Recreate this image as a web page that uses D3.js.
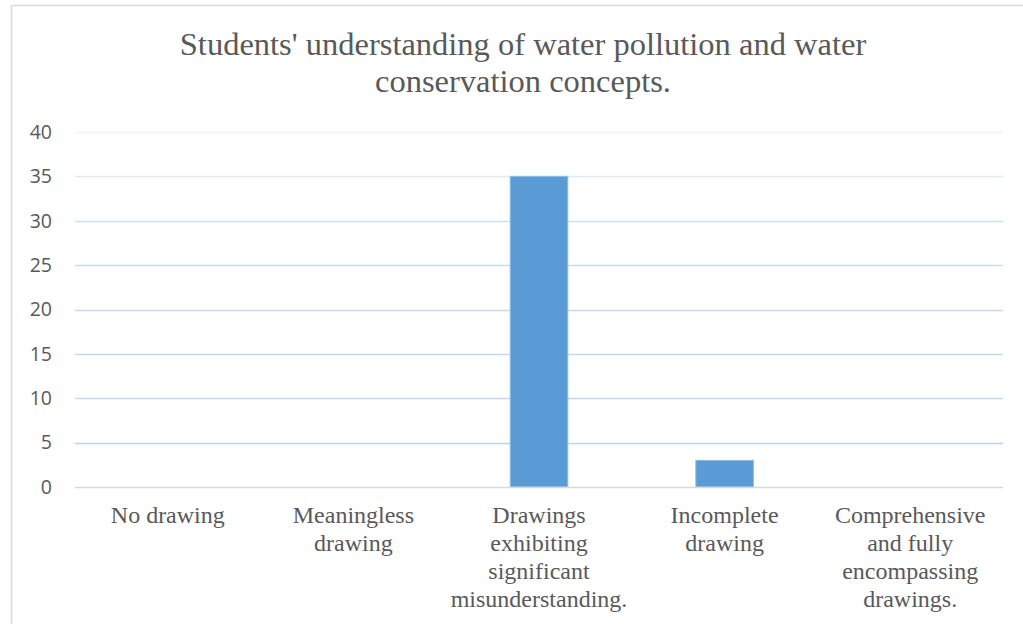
<!DOCTYPE html>
<html>
<head>
<meta charset="utf-8">
<script src="https://cdn.jsdelivr.net/npm/d3@7"></script>
<style>
  html, body { margin: 0; padding: 0; background: #fff; }
  svg { display: block; }
  .serif { font-family: "Liberation Serif", "Tinos", "Times New Roman", "Nimbus Roman", "DejaVu Serif", serif; }
  .sans { font-family: "Open Sans", "Liberation Sans", sans-serif; }
</style>
</head>
<body>
<svg id="chart" width="1023" height="624"></svg>
<script>
// Drawing categories (each label split into its wrapped lines)
const categories = [
  ["No drawing"],
  ["Meaningless", "drawing"],
  ["Drawings", "exhibiting", "significant", "misunderstanding."],
  ["Incomplete", "drawing"],
  ["Comprehensive", "and fully", "encompassing", "drawings."]
];
const counts = [0, 0, 35, 3, 0];
const yTicks = [0, 5, 10, 15, 20, 25, 30, 35, 40];
const titleLines = [
  "Students' understanding of water pollution and water",
  "conservation concepts."
];

const W = 1023, H = 624;
const margin = { left: 75, right: 20, top: 132, bottom: 137 };
const svg = d3.select("#chart");

// chart frame (open on the right and bottom)
svg.append("path")
  .attr("d", `M11.5,${H} V5.5 H${W}`)
  .attr("fill", "none")
  .attr("stroke", "#d9d9d9")
  .attr("stroke-width", 1.5);

const x = d3.scaleBand()
  .domain(d3.range(categories.length))
  .range([margin.left, W - margin.right])
  .paddingInner(0.69)
  .paddingOuter(0.345);

const xBand = d3.scaleBand()
  .domain(d3.range(categories.length))
  .range([margin.left, W - margin.right]);

const y = d3.scaleLinear()
  .domain([0, 40])
  .range([H - margin.bottom, margin.top]);

// gridlines (top ones fade out)
const gridOpacity = d3.scaleLinear().domain([5, 30, 40]).range([1, 0.75, 0.25]);
svg.append("g")
  .selectAll("line")
  .data(yTicks.filter(d => d > 0))
  .join("line")
  .attr("x1", margin.left)
  .attr("x2", W - margin.right)
  .attr("y1", d => Math.round(y(d)) + 0.5)
  .attr("y2", d => Math.round(y(d)) + 0.5)
  .attr("stroke", "#bcd5ee")
  .attr("stroke-opacity", d => gridOpacity(d))
  .attr("stroke-width", 1.5);

// y axis labels
const yAxis = d3.axisLeft(y).tickValues(yTicks).tickSize(0).tickPadding(0);
const yg = svg.append("g")
  .attr("transform", `translate(${52},0)`)
  .call(yAxis);
yg.select(".domain").remove();
yg.attr("font-family", null).attr("font-size", null);
yg.selectAll("text")
  .attr("class", "sans")
  .attr("font-size", 19.5)
  .attr("fill", "#595959");

// bars
svg.append("g")
  .selectAll("rect")
  .data(counts)
  .join("rect")
  .attr("x", (d, i) => x(i))
  .attr("width", x.bandwidth())
  .attr("y", d => y(d))
  .attr("height", d => y(0) - y(d))
  .attr("fill", "#5b9bd5")
  .attr("stroke", "#8dbbe6")
  .attr("stroke-width", 1);

// baseline
svg.append("line")
  .attr("x1", margin.left)
  .attr("x2", W - margin.right)
  .attr("y1", y(0) + 0.5)
  .attr("y2", y(0) + 0.5)
  .attr("stroke", "#d9d9d9")
  .attr("stroke-width", 1.5);

// category labels
const lab = svg.append("g")
  .selectAll("text")
  .data(categories)
  .join("text")
  .attr("class", "serif")
  .attr("x", (d, i) => xBand(i) + xBand.bandwidth() / 2)
  .attr("y", y(0) + 36)
  .attr("text-anchor", "middle")
  .attr("font-size", 24)
  .attr("fill", "#595959");
lab.selectAll("tspan")
  .data(d => d)
  .join("tspan")
  .attr("x", function () { return d3.select(this.parentNode).attr("x"); })
  .attr("dy", (d, i) => i === 0 ? 0 : 28)
  .text(d => d);

// title
svg.append("text")
  .attr("class", "serif")
  .attr("x", 523)
  .attr("y", 55)
  .attr("text-anchor", "middle")
  .attr("font-size", 32.5)
  .attr("fill", "#595959")
  .selectAll("tspan")
  .data(titleLines)
  .join("tspan")
  .attr("x", 523)
  .attr("dy", (d, i) => i === 0 ? 0 : 37)
  .text(d => d);
</script>
</body>
</html>
